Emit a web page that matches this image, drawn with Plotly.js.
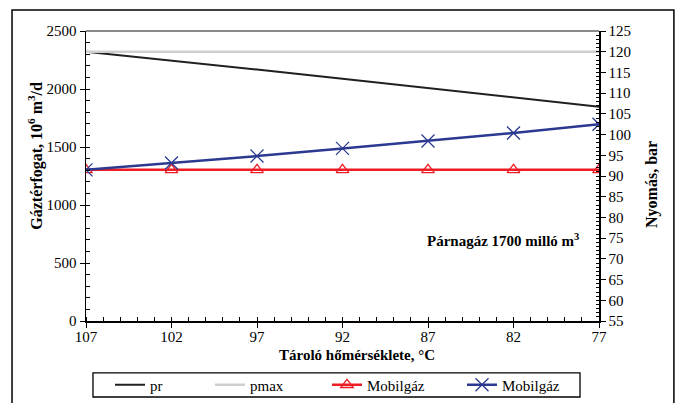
<!DOCTYPE html>
<html>
<head>
<meta charset="utf-8">
<script src="https://cdn.plot.ly/plotly-3.0.1.min.js"></script>
<style>html,body{margin:0;padding:0;background:#fff}#chart{width:680px;height:403px}</style>
</head>
<body>
<div id="chart"></div>
<script>
// Data
const temperatures = [107, 102, 97, 92, 87, 82, 77];
const prValues = [120.0, 117.9, 115.7, 113.5, 111.2, 109.0, 106.7];      // bar (right axis)
const pmaxValues = [120, 120, 120, 120, 120, 120, 120];                 // bar (right axis)
const mobilRed = [1303, 1303, 1303, 1303, 1303, 1303, 1303];             // 10^6 m3/d (left axis)
const mobilBlue = [1303, 1362, 1422, 1488, 1552, 1621, 1696];            // 10^6 m3/d (left axis)
const seriesNames = ['pr', 'pmax', 'Mobilgáz', 'Mobilgáz'];
const xTitle = 'Tároló hőmérséklete, °C';
const yTitle = 'Gáztérfogat, 10<sup>6</sup> m<sup>3</sup>/d';
const y2Title = 'Nyomás, bar';
const noteText = 'Párnagáz 1700 milló m<sup>3</sup>';

const F = 'Liberation Serif, Times New Roman, serif';
const W = 680, H = 403;

const traces = [
  {x: temperatures, y: prValues, name: seriesNames[0], yaxis: 'y2', mode: 'lines', legend: 'legend',
   line: {color: '#231f20', width: 2}},
  {x: temperatures, y: pmaxValues, name: seriesNames[1], yaxis: 'y2', mode: 'lines', legend: 'legend2',
   line: {color: '#cfcfcf', width: 2.5}},
  {x: temperatures, y: mobilRed, name: seriesNames[2], mode: 'lines+markers', legend: 'legend3',
   line: {color: '#ee1c25', width: 2.5},
   marker: {symbol: 'triangle-up-open', size: 11, color: '#ee1c25', line: {width: 1.3}}},
  {x: temperatures, y: mobilBlue, name: seriesNames[3], mode: 'lines+markers', legend: 'legend4',
   line: {color: '#2b3990', width: 2.5},
   marker: {symbol: 'x-thin-open', size: 13, color: '#2b3990', line: {width: 1.3, color: '#2b3990'}}}
];

function leg(px) {
  return {
    orientation: 'h', xref: 'container', yref: 'container',
    x: px / W, xanchor: 'left', y: 1 - 385 / H, yanchor: 'middle',
    font: {family: F, size: 15}, bgcolor: 'rgba(0,0,0,0)', borderwidth: 0
  };
}

const layout = {
  width: W, height: H,
  margin: {l: 86, r: 81, t: 31, b: 82},
  paper_bgcolor: '#fff', plot_bgcolor: '#fff',
  font: {family: F, size: 15, color: '#000'},
  showlegend: true,
  xaxis: {
    range: [107, 77], tick0: 107, dtick: 5, showgrid: false, zeroline: false,
    showline: true, linecolor: '#000', linewidth: 1.5,
    ticks: 'outside', ticklen: 5, tickcolor: '#000', tickwidth: 1,
    ticklabelstandoff: -4,
    minor: {dtick: 1, ticks: 'inside', ticklen: 4, tickcolor: '#000', showgrid: false},
    tickfont: {family: F, size: 15}
  },
  yaxis: {
    range: [0, 2500], dtick: 500, showgrid: false, zeroline: false,
    showline: true, linecolor: '#000', linewidth: 1.5,
    ticks: 'outside', ticklen: 5, tickcolor: '#000', tickwidth: 1,
    minor: {dtick: 100, ticks: 'inside', ticklen: 4, tickcolor: '#000', showgrid: false},
    tickfont: {family: F, size: 15}
  },
  yaxis2: {
    overlaying: 'y', side: 'right', range: [55, 125], dtick: 5,
    showgrid: false, zeroline: false,
    showline: true, linecolor: '#000', linewidth: 1.5,
    ticks: 'outside', ticklen: 5, tickcolor: '#000', tickwidth: 1,
    minor: {dtick: 1, ticks: 'inside', ticklen: 3, tickcolor: '#000', showgrid: false},
    tickfont: {family: F, size: 15}
  },
  legend: leg(110),
  legend2: leg(210),
  legend3: leg(327),
  legend4: leg(462),
  shapes: [
    {type: 'line', xref: 'paper', yref: 'paper', x0: 0, x1: 1, y0: 1, y1: 1,
     line: {color: '#8a8a8a', width: 2}},
    {type: 'rect', xref: 'paper', yref: 'paper', x0: 0.0136, x1: 0.963, y0: -0.262, y1: -0.179,
     line: {color: '#000', width: 1.3}},
    {type: 'rect', xref: 'paper', yref: 'paper', x0: -0.1442, x1: 1.146, y0: -0.32, y1: 1.0724,
     line: {color: '#000', width: 1.5}}
  ],
  annotations: [
    {xref: 'paper', yref: 'paper', x: -0.0975, y: 0.57, xanchor: 'center', yanchor: 'middle',
     text: '<b>' + yTitle + '</b>', textangle: -90, showarrow: false, font: {family: F, size: 16}},
    {xref: 'paper', yref: 'paper', x: 1.103, y: 0.472, xanchor: 'center', yanchor: 'middle',
     text: '<b>' + y2Title + '</b>', textangle: -90, showarrow: false, font: {family: F, size: 16}},
    {xref: 'paper', yref: 'paper', x: 0.528, y: -0.117, xanchor: 'center', yanchor: 'middle',
     text: '<b>' + xTitle + '</b>', showarrow: false, font: {family: F, size: 15}},
    {xref: 'paper', yref: 'paper', x: 0.813, y: 0.279, xanchor: 'center', yanchor: 'middle',
     text: '<b>' + noteText + '</b>', showarrow: false, font: {family: F, size: 15}}
  ]
};

Plotly.newPlot('chart', traces, layout, {displayModeBar: false, staticPlot: true});
</script>
</body>
</html>
